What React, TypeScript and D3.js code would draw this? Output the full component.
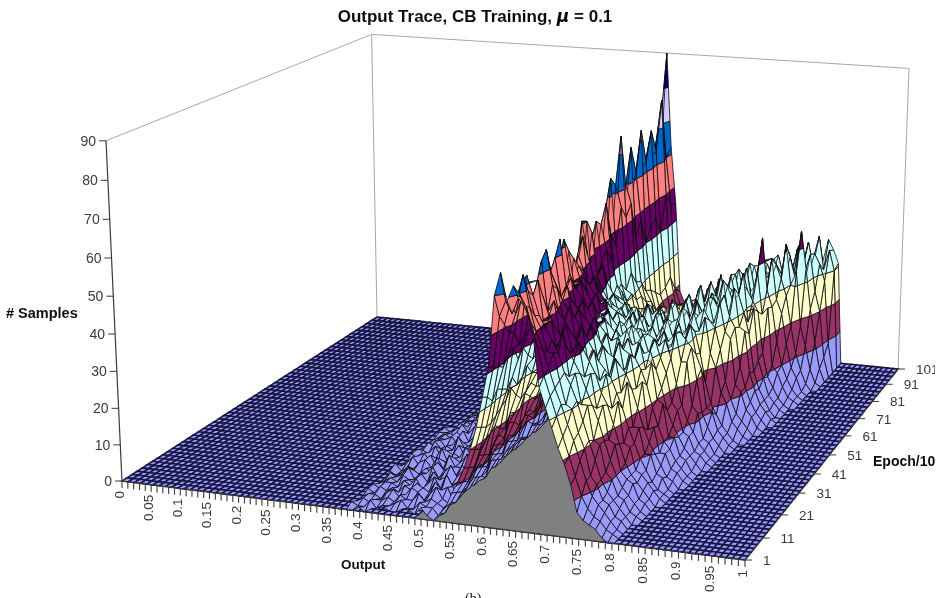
import React from "react";
import * as d3 from "d3";

// ---------- categories / tick labels ----------
const outputTicks = ["0","0.05","0.1","0.15","0.2","0.25","0.3","0.35","0.4","0.45","0.5","0.55","0.6","0.65","0.7","0.75","0.8","0.85","0.9","0.95","1"];
const epochTicks = [1,11,21,31,41,51,61,71,81,91,101];
const sampleTicks = [0,10,20,30,40,50,60,70,80,90];
const bandColors = ["#9999FF","#993366","#FFFFCC","#CCFFFF","#660066","#FF8080","#0066CC","#CCCCFF","#000080"];
const bandEdges = [10,20,30,40,50,60,70,80];

// ---------- series: # samples, one array per epoch, output 0.36 ... 0.89 in 0.01 steps ----------
const e1 =   [0,0,1,0,1,1,2,1,1,2,2,1,3,1, 0,2,4,8,11,15,20,26,34,42, 60,66,59,63,61,58,52,38,33,28, 23,19,14,7,5,4,3,1,0,0, 0,0,0,0,0,0,0,0,0,0];
const e4 =   [1,0,0,2,0,1,1,2,3,1,1,3,2,2, 0,1,4,7,10,14,19,25,33,41, 54,58,55,59,57,53,47,40,35,30, 25,20,15,10,7,5,4,2,1,0, 0,0,0,0,0,0,0,0,0,0];
const e6 =   [0,1,0,1,1,2,1,3,2,2,4,2,3,2, 1,2,3,6,9,13,18,24,31,40, 51,57,58,64,56,50,46,41,36,32, 27,23,18,13,9,7,5,3,1,0, 0,0,0,0,0,0,0,0,0,0];
const e9 =   [0,1,1,0,2,3,1,2,4,3,1,3,5,2, 1,3,4,6,10,15,19,24,33,39, 48,53,60,59,53,50,44,44,37,31, 30,24,20,13,11,7,6,3,2,0, 0,0,0,0,0,0,0,0,0,0];
const e11 =  [1,0,2,1,2,1,3,2,4,3,2,5,3,4, 0,3,5,7,11,14,20,25,32,41, 47,55,62,57,52,49,46,43,38,35, 31,26,21,16,11,8,6,4,2,0, 0,0,0,0,0,0,0,0,0,0];
const e14 =  [1,0,2,2,1,3,2,4,1,3,5,2,6,3, 0,2,6,9,10,13,21,26,31,42, 43,56,52,60,48,51,43,47,36,37, 29,29,20,19,12,10,6,5,2,1, 0,0,0,0,0,0,0,0,0,0];
const e16 =  [0,1,2,1,3,2,1,4,2,5,3,4,2,3, 1,2,5,8,10,15,19,27,33,38, 44,52,58,55,50,47,45,42,39,36, 32,28,24,19,14,10,7,5,3,1, 0,0,0,0,0,0,0,0,0,0];
const e19 =  [0,2,1,2,4,1,3,3,5,2,4,6,3,5, 1,4,4,7,13,16,18,29,30,40, 45,48,63,50,53,44,47,40,43,34, 35,26,27,18,17,10,8,7,3,2, 0,0,0,0,0,0,0,0,0,0];
const e21 =  [1,0,1,3,2,1,3,2,5,3,4,2,5,3, 0,3,4,9,12,14,21,26,31,37, 43,50,65,56,49,47,44,42,40,37, 34,29,26,21,16,11,8,6,4,2, 0,0,0,0,0,0,0,0,0,0];
const e24 =  [2,0,1,1,3,4,2,5,2,6,3,3,7,2, 0,1,6,8,11,17,20,24,33,35, 47,52,58,54,46,50,41,45,36,39, 31,33,24,26,15,14,8,7,5,3, 1,0,0,0,0,0,0,0,0,0];
const e26 =  [0,1,3,1,2,4,1,3,2,4,3,5,4,2, 1,2,5,7,12,16,20,25,30,36, 42,57,54,50,48,46,44,41,38,35, 33,31,27,23,18,14,10,7,4,2, 1,0,0,0,0,0,0,0,0,0];
const e29 =  [0,1,2,3,1,2,5,1,4,3,6,4,2,5, 1,4,4,9,11,14,23,26,29,40, 43,60,50,53,44,47,39,43,35,38, 30,35,26,29,17,17,10,10,5,4, 1,0,0,0,0,0,0,0,0,0];
const e31 =  [1,0,1,2,4,1,3,2,5,2,4,3,6,3, 0,3,5,8,11,15,21,24,31,37, 46,64,52,48,46,44,42,40,37,35, 34,32,30,26,21,16,12,9,6,3, 2,0,0,0,0,0,0,0,0,0];
const e34 =  [1,1,0,4,2,3,2,6,3,4,2,7,4,3, 0,2,5,7,14,16,19,23,35,36, 56,49,53,44,47,39,43,36,39,32, 37,29,34,25,27,14,15,8,8,4, 3,1,0,0,0,0,0,0,0,0];
const e36 =  [0,2,1,3,1,2,4,3,2,5,3,6,2,4, 1,2,6,9,13,14,19,26,33,40, 62,53,49,47,44,41,40,38,36,37, 34,33,32,29,25,19,14,10,8,5, 3,1,0,0,0,0,0,0,0,0];
const e39 =  [0,0,2,2,3,1,5,2,4,7,3,4,6,2, 1,3,5,10,11,15,22,26,31,46, 58,48,50,42,45,37,41,34,38,33, 36,30,35,28,30,20,19,10,10,5, 4,1,0,0,0,0,0,0,0,0];
const e41 =  [0,1,2,1,3,2,3,5,3,4,6,3,5,2, 0,3,4,8,12,16,20,27,32,42, 55,50,47,44,41,39,38,36,35,37, 33,34,31,32,27,22,16,12,9,6, 4,2,0,0,0,0,0,0,0,0];
const e44 =  [1,1,1,0,4,2,2,6,2,3,7,2,4,4, 0,2,6,7,13,14,20,29,35,48, 52,49,41,45,38,41,33,38,31,37, 30,35,30,34,29,25,17,15,9,8, 4,3,1,0,0,0,0,0,0,0];
const e46 =  [1,0,1,2,2,4,2,3,6,2,4,5,3,3, 1,2,5,7,11,15,22,28,37,54, 50,46,43,41,40,37,35,36,33,35, 32,34,33,31,33,28,21,15,11,8, 5,3,1,0,0,0,0,0,0,0];
const e49 =  [0,0,0,2,1,3,3,2,5,3,4,6,2,3, 1,4,4,8,11,18,21,33,49,58, 44,47,38,41,35,38,32,37,31,34, 29,35,31,34,28,34,26,26,14,12, 5,4,1,0,0,0,0,0,0,0];
const e51 =  [0,0,1,1,3,1,2,4,2,5,3,2,4,1, 0,3,6,9,13,17,24,33,61,52, 46,42,40,38,37,36,34,33,36,32, 33,31,34,30,32,33,31,29,20,11, 7,4,2,0,0,0,0,0,0,0];
const e54 =  [0,0,1,0,2,1,2,3,2,6,2,3,4,1, 0,2,7,9,15,18,27,36,60,42, 44,35,39,33,37,31,36,30,35,29, 36,28,35,30,34,29,34,26,22,11, 10,5,3,1,0,0,0,0,0,0];
const e56 =  [0,0,0,1,1,2,1,2,3,2,4,2,3,2, 1,3,5,10,14,20,28,40,56,44, 40,37,36,35,33,36,32,34,31,33, 35,30,33,34,29,33,31,25,17,11, 8,5,3,1,0,0,0,0,0,0];
const e59 =  [0,0,0,1,0,2,1,1,3,1,3,3,2,3, 1,4,5,12,13,24,30,52,42,46, 36,38,32,36,30,35,29,36,30,35, 30,37,29,36,27,35,30,34,24,20, 13,10,5,3,1,0,0,0,0,0];
const e61 =  [0,0,0,0,1,1,2,1,1,2,3,2,3,2, 0,2,6,11,15,22,33,57,46,40, 37,35,34,32,33,30,35,32,34,30, 33,36,31,34,30,33,35,32,30,24, 15,10,6,4,2,0,0,0,0,0];
const e64 =  [0,0,0,0,1,0,1,2,1,2,1,3,2,2, 0,2,8,11,20,23,43,55,48,34, 35,30,33,27,31,26,33,28,32,27, 34,30,36,29,36,28,37,30,36,28, 26,13,11,6,4,1,0,0,0,0];
const e66 =  [0,0,0,0,0,1,0,1,2,1,1,2,2,1, 1,3,7,12,18,26,40,60,44,37, 33,31,28,30,27,29,26,30,28,31, 29,33,30,35,32,30,36,33,37,31, 28,17,11,7,4,2,0,0,0,0];
const e69 =  [0,0,0,0,0,1,1,0,1,0,2,1,1,2, 1,4,7,15,19,31,57,50,33,34, 27,26,29,23,28,22,31,25,33,24, 32,35,28,38,30,36,33,40,30,38, 27,26,14,9,5,3,1,0,0,0];
const e71 =  [0,0,0,0,0,0,0,1,0,1,1,0,1,1, 0,3,8,14,22,33,65,46,35,30, 26,28,24,27,25,23,29,26,30,28, 33,30,36,32,38,34,31,37,33,35, 30,24,13,8,5,2,0,0,0,0];
const e74 =  [0,0,0,0,0,0,1,0,1,0,0,1,0,0, 0,3,10,13,26,36,62,56,32,31, 23,27,20,26,21,28,21,29,24,30, 27,34,26,36,29,39,30,35,32,40, 26,30,15,10,5,3,1,0,0,0];
const e76 =  [0,0,0,0,0,0,0,0,0,0,0,0,0,0, 1,4,9,16,26,42,75,52,36,28, 23,25,21,24,22,26,23,28,25,27, 30,27,33,29,35,31,38,30,36,34, 31,28,16,9,6,3,1,0,0,0];
const e79 =  [0,0,0,0,0,0,0,0,0,0,0,0,0,0, 1,3,10,17,29,44,60,55,32,28, 21,24,19,23,20,25,19,27,22,28, 24,32,25,35,28,33,37,29,39,30, 38,26,28,11,9,5,2,1,0,0];
const e81 =  [0,0,0,0,0,0,0,0,0,0,0,0,0,0, 0,4,10,18,30,48,70,44,31,25, 20,22,18,21,19,23,20,25,22,27, 25,29,26,33,30,35,28,36,31,33, 47,32,27,17,10,6,3,1,0,0];
const e84 =  [0,0,0,0,0,0,0,0,0,0,0,0,0,0, 0,5,11,20,31,52,62,48,27,24, 18,21,16,20,17,22,18,24,20,26, 22,30,24,31,27,36,28,38,30,35, 29,40,28,24,15,8,5,1,0,0];
const e86 =  [0,0,0,0,0,0,0,0,0,0,0,0,0,0, 1,5,12,20,34,58,73,40,26,20, 17,19,16,18,15,20,18,22,19,24, 22,27,24,30,26,33,29,36,31,34, 32,37,33,28,19,11,6,2,0,0];
const e89 =  [0,0,0,0,0,0,0,0,0,0,0,0,0,0, 1,4,13,22,37,60,63,44,24,18, 16,18,15,17,16,18,17,20,18,23, 21,25,22,28,25,30,27,35,31,33, 36,28,42,30,34,18,12,5,1,0];
const e91 =  [0,0,0,0,0,0,0,0,0,0,0,0,0,0, 0,5,13,24,40,62,71,45,22,17, 15,17,14,16,18,15,19,17,21,20, 24,21,26,23,29,26,32,35,30,36, 33,30,37,31,45,34,22,12,4,0];
const e94 =  [0,0,0,0,0,0,0,0,0,0,0,0,0,0, 0,6,14,26,43,62,64,40,23,16, 14,17,13,16,15,17,16,19,17,22, 20,25,21,27,24,30,26,33,29,36, 30,37,31,39,28,37,26,20,6,0];
const e96 =  [0,0,0,0,0,0,0,0,0,0,0,0,0,0, 1,6,15,28,46,65,78,50,25,17, 14,16,13,15,17,14,18,16,20,18, 23,20,25,22,28,25,30,27,33,29, 35,31,38,33,30,36,33,28,9,0];
const e99 =  [0,0,0,0,0,0,0,0,0,0,0,0,0,0, 1,5,15,27,50,72,60,46,20,15, 13,15,12,14,13,16,14,18,15,19, 19,23,19,26,22,29,24,31,26,34, 28,36,30,38,31,40,30,36,30,0];
const e101 = [0,0,0,0,0,0,0,0,0,0,0,0,0,0, 1,6,14,28,55,90,62,45,18,14, 12,13,11,14,12,15,13,16,14,17, 18,20,17,23,21,26,22,25,28,24, 29,27,32,30,34,31,38,35,31,0];
const surfaceRows = [e1,e4,e6,e9,e11,e14,e16,e19,e21,e24,e26,e29,e31,e34,e36,e39,e41,e44,e46,e49,e51,e54,e56,e59,e61,e64,e66,e69,e71,e74,e76,e79,e81,e84,e86,e89,e91,e94,e96,e99,e101];
const firstOutput = 0.36;
const outputStep = 0.01;

// ---------- projection ----------
const cA: [number, number] = [122, 481], cB: [number, number] = [745, 560], cC: [number, number] = [898, 369], cD: [number, number] = [377, 317];
const sA = 3.78, sB = 4.05, sC = 3.34, sD = 3.14;
const vanish = [556, 9714];
const uTick = d3.scaleLinear().domain([0, .25, .5, .75, 1]).range([0, .234, .48, .733, 1]);
const vTick = d3.scaleLinear().domain(epochTicks).range([0, .115, .236, .35, .45, .55, .65, .74, .83, .92, 1]);

function floorXY(u: number, v: number): [number, number] {
  const a = (1 - u) * (1 - v), b = u * (1 - v), c = u * v, d = (1 - u) * v;
  return [a * cA[0] + b * cB[0] + c * cC[0] + d * cD[0], a * cA[1] + b * cB[1] + c * cC[1] + d * cD[1]];
}
function proj(u: number, v: number, h: number): [number, number] {
  const [x, y] = floorXY(u, v);
  const a = (1 - u) * (1 - v), b = u * (1 - v), c = u * v, d = (1 - u) * v;
  const s = a * sA + b * sB + c * sC + d * sD;
  const dy = s * h * (.95 + .05 * h / 90);
  const k = dy / (vanish[1] - y);
  return [x + (x - vanish[0]) * k, y - dy];
}
const pathOf = d3.line<[number, number]>().x(p => p[0]).y(p => p[1]);
const closed = (pts: [number, number][]) => (pathOf(pts) || "") + "Z";

type P3 = { u: number; v: number; h: number };
function clip(poly: P3[], level: number, keepAbove: boolean): P3[] {
  const out: P3[] = [];
  const inside = (p: P3) => (keepAbove ? p.h >= level : p.h <= level);
  poly.forEach((p, i) => {
    const q = poly[(i + 1) % poly.length];
    if (inside(p)) out.push(p);
    if (inside(p) !== inside(q)) {
      const t = (level - p.h) / (q.h - p.h);
      out.push({ u: p.u + (q.u - p.u) * t, v: p.v + (q.v - p.v) * t, h: level });
    }
  });
  return out;
}

type Piece = { d: string; fill: string };
function buildFloor(): string[] {
  const res: string[] = [];
  const nu = 100, nv = 50;
  for (let j = nv - 1; j >= 0; j--) {
    for (let i = 0; i < nu; i++) {
      res.push(closed([floorXY(i / nu, j / nv), floorXY((i + 1) / nu, j / nv), floorXY((i + 1) / nu, (j + 1) / nv), floorXY(i / nu, (j + 1) / nv)]));
    }
  }
  return res;
}
function buildSurface(): Piece[] {
  const res: Piece[] = [];
  const nr = surfaceRows.length;
  const edges = [0, ...bandEdges, 90.01];
  for (let r = nr - 2; r >= 0; r--) {
    const cols = d3.range(surfaceRows[r].length - 1);
    const order = cols.slice().sort((a, b) => {
      const ua = firstOutput + a * outputStep, ub = firstOutput + b * outputStep;
      return Math.abs(floorXY(ub, r / (nr - 1))[0] - vanish[0]) - Math.abs(floorXY(ua, r / (nr - 1))[0] - vanish[0]);
    });
    for (const c of order) {
      const u0 = firstOutput + c * outputStep, u1 = u0 + outputStep;
      const v0 = r / (nr - 1), v1 = (r + 1) / (nr - 1);
      const quad: P3[] = [
        { u: u0, v: v0, h: surfaceRows[r][c] },
        { u: u1, v: v0, h: surfaceRows[r][c + 1] },
        { u: u1, v: v1, h: surfaceRows[r + 1][c + 1] },
        { u: u0, v: v1, h: surfaceRows[r + 1][c] },
      ];
      if (quad.every(p => p.h === 0)) continue;
      for (let b = 0; b < edges.length - 1; b++) {
        let poly = clip(quad, edges[b], true);
        if (poly.length) poly = clip(poly, edges[b + 1], false);
        if (poly.length < 3) continue;
        res.push({ d: closed(poly.map(p => proj(p.u, p.v, p.h))), fill: bandColors[b] });
      }
    }
  }
  return res;
}

const grayU = [.47, .77, .885, .5];
const grayV = [0, 0, 1, 1];
const font = "'Liberation Sans', Arial, sans-serif";
const tickColor = "#3a3a3a";

export default function App() {
  const floor = buildFloor();
  const surface = buildSurface();
  const gray = closed(grayU.map((u, i) => floorXY(u, grayV[i])));
  const wall = (u: number, v: number) => proj(u, v, 90);
  const minorOutput = d3.range(0, 101).map(i => i / 100);
  const axisZ = d3.scaleLinear().domain([0, 90]).range([0, 90]);
  return (
    <svg width={944} height={598} style={{ position: "absolute", left: 0, top: 0, background: "#fff" }} fontFamily={font}>
      <defs>
        <filter id="soft" x="-5%" y="-5%" width="110%" height="110%"><feGaussianBlur stdDeviation="0.5" /></filter>
        <clipPath id="crop"><rect x={0} y={0} width={935} height={598} /></clipPath>
      </defs>
      <g filter="url(#soft)" clipPath="url(#crop)">
        {/* walls */}
        <path d={pathOf([wall(0, 0), wall(0, 1), wall(1, 1)]) || ""} fill="none" stroke="#a8a8a8" strokeWidth={1} />
        <path d={pathOf([wall(0, 1), floorXY(0, 1)]) || ""} fill="none" stroke="#a8a8a8" strokeWidth={1} />
        <path d={pathOf([wall(1, 1), floorXY(1, 1)]) || ""} fill="none" stroke="#a8a8a8" strokeWidth={1} />
        {/* floor */}
        <g fill="#9999FF" stroke="#14143c" strokeWidth={1.55}>
          {floor.map((d, i) => <path key={i} d={d} />)}
        </g>
        <path d={gray} fill="#808080" stroke="none" />
        {/* surface */}
        <g stroke="#0a0a0a" strokeWidth={0.8} strokeLinejoin="round">
          {surface.map((p, i) => <path key={i} d={p.d} fill={p.fill} />)}
        </g>
        {/* sample axis */}
        <path d={pathOf(d3.range(0, 91, 10).map(h => proj(0, 0, axisZ(h)))) || ""} fill="none" stroke={tickColor} strokeWidth={1.2} />
        {sampleTicks.map(t => {
          const [x, y] = proj(0, 0, axisZ(t));
          return (
            <g key={t}>
              <line x1={x - 7} x2={x} y1={y} y2={y} stroke={tickColor} strokeWidth={1} />
              <text x={x - 10} y={y} dy="0.36em" textAnchor="end" fontSize={14} fill={tickColor}>{t}</text>
            </g>
          );
        })}
        {/* output axis */}
        <path d={pathOf([floorXY(0, 0), floorXY(1, 0)]) || ""} fill="none" stroke={tickColor} strokeWidth={1} />
        {minorOutput.map(t => {
          const [x, y] = floorXY(uTick(t), 0);
          return <line key={t} x1={x} x2={x} y1={y} y2={y + 7} stroke={tickColor} strokeWidth={1.1} />;
        })}
        {outputTicks.map(t => {
          const [x, y] = floorXY(uTick(+t), 0);
          return (
            <text key={t} transform={`translate(${x - 3},${y + 10}) rotate(-90)`} dy="0.36em" textAnchor="end" fontSize={13.5} fill={tickColor}>{t}</text>
          );
        })}
        {/* epoch axis */}
        <path d={pathOf([floorXY(1, 0), floorXY(1, 1)]) || ""} fill="none" stroke={tickColor} strokeWidth={1} />
        {epochTicks.map(t => {
          const [x, y] = floorXY(1, vTick(t));
          return (
            <g key={t}>
              <line x1={x} x2={x + 7} y1={y} y2={y} stroke={tickColor} strokeWidth={1} />
              <text x={x + 18} y={y} dy="0.36em" fontSize={13.5} fill={tickColor}>{t}</text>
            </g>
          );
        })}
        {/* titles */}
        <text x={475} y={22} textAnchor="middle" fontSize={17} fontWeight="bold" fill="#111">Output Trace, CB Training,  <tspan fontStyle="italic" fontFamily="'DejaVu Sans'">μ</tspan> = 0.1</text>
        <text x={6} y={318} fontSize={14.5} fontWeight="bold" fill="#111">{"# Samples"}</text>
        <text x={341} y={569} fontSize={13.5} fontWeight="bold" fill="#111">Output</text>
        <text x={873} y={466} fontSize={14} fontWeight="bold" fill="#111">Epoch/10</text>
        <text x={465} y={603} fontSize={14} fontFamily="'Liberation Serif', serif" fill="#111">(b)</text>
      </g>
    </svg>
  );
}
